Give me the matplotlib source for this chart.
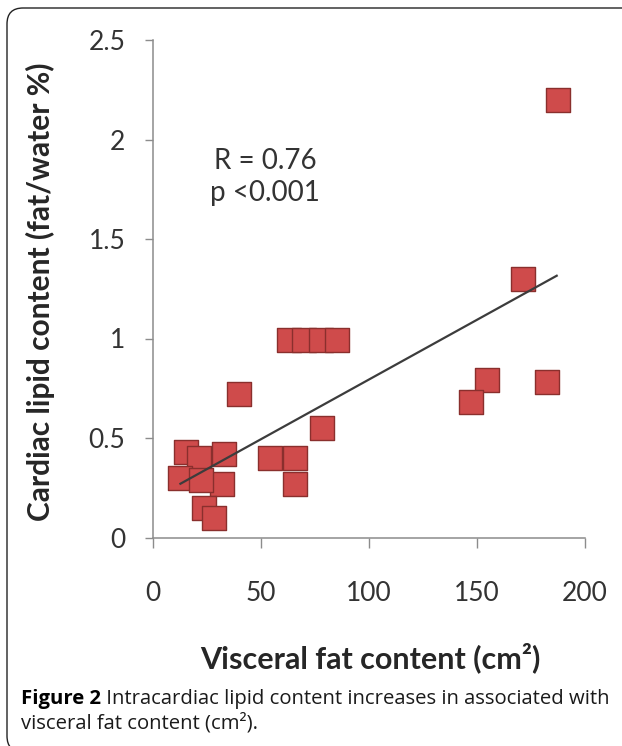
import matplotlib
matplotlib.use('Agg')
import matplotlib.pyplot as plt
from matplotlib.patches import FancyBboxPatch
import numpy as np

# values
visceral_fat = [187.6, 171.4, 154.8, 147.1, 182.3,
                63, 70, 78, 85, 39.8, 78.1,
                54.3, 65.6, 65.7,
                15.3, 21.3, 32.9, 12.7, 31.9, 23.6, 28.2, 22.2]
cardiac_lipid = [2.20, 1.30, 0.79, 0.68, 0.78,
                 0.99, 0.99, 0.99, 0.99, 0.72, 0.55,
                 0.40, 0.40, 0.27,
                 0.43, 0.40, 0.42, 0.30, 0.27, 0.15, 0.10, 0.29]
trend_slope = 0.006
trend_intercept = 0.194
x_ticks = [0, 50, 100, 150, 200]
y_ticks = [0, 0.5, 1, 1.5, 2, 2.5]
y_tick_labels = ['0', '0.5', '1', '1.5', '2', '2.5']
stats_text = 'R = 0.76\np <0.001'
x_title = 'Visceral fat content (cm²)'
y_title = 'Cardiac lipid content (fat/water %)'
caption_bold = 'Figure 2'
caption_line1 = ' Intracardiac lipid content increases in associated with'
caption_line2 = 'visceral fat content (cm²).'

W, H = 622, 746
fig = plt.figure(figsize=(W / 100, H / 100), dpi=100)
fig.patch.set_facecolor('white')

ax = fig.add_axes([153 / W, 1 - 537.5 / H, 432 / W, 497.5 / H])
xs = np.array(visceral_fat)
ys = np.array(cardiac_lipid)
ax.scatter(xs, ys, marker='s', s=17 ** 2, facecolor='#cf4b4b',
           edgecolor='#8a2f2d', linewidths=1.0, zorder=2)

# trend line across data range
tx = np.array([xs.min(), xs.max() - 0.7])
ax.plot(tx, trend_intercept + trend_slope * tx, color='#3c3c3c', lw=1.6, zorder=3)

ax.set_xlim(0, 200)
ax.set_ylim(0, 2.5)
ax.set_xticks(x_ticks)
ax.set_yticks(y_ticks)
ax.set_yticklabels(y_tick_labels)
for s in ['top', 'right']:
    ax.spines[s].set_visible(False)
for s in ['left', 'bottom']:
    ax.spines[s].set_color('#8c8c8c')
    ax.spines[s].set_linewidth(1.1)
ax.tick_params(axis='x', direction='out', length=7, width=1, color='#8c8c8c',
               pad=24, labelsize=19, labelcolor='#333333')
ax.tick_params(axis='y', direction='out', length=6, width=1, color='#8c8c8c',
               pad=14, labelsize=19, labelcolor='#333333')
for lab in ax.get_xticklabels() + ax.get_yticklabels():
    lab.set_fontfamily('Lato')

ax.text(0.26, 0.725, stats_text, transform=ax.transAxes, ha='center', va='center',
        fontsize=20, family='Lato', color='#333333', linespacing=1.3)

fig.text(370 / W, 1 - 658 / H, x_title, ha='center', va='center',
         fontsize=22, fontweight='bold', family='Lato', color='#262626')
fig.text(40 / W, 1 - 292 / H, y_title, ha='center', va='center', rotation=90,
         fontsize=21.5, fontweight='bold', family='Lato', color='#262626')

cap = fig.text(21 / W, 1 - 709 / H, caption_bold, ha='left', va='bottom',
               fontsize=14.6, fontweight='bold', family='Open Sans', color='black')
ax.annotate(caption_line1, xy=(1, 0), xycoords=cap, ha='left', va='bottom',
            fontsize=14.6, family='Open Sans', color='#1a1a1a', annotation_clip=False)
fig.text(21 / W, 1 - 734 / H, caption_line2, ha='left', va='bottom',
         fontsize=14.6, family='Open Sans', color='#1a1a1a')

# rounded panel border
border = FancyBboxPatch((0.07, -0.06), 7.0, 7.46 - 0.08 + 0.06,
                        boxstyle='round,pad=0,rounding_size=0.16',
                        transform=fig.dpi_scale_trans, facecolor='none',
                        edgecolor='#222222', linewidth=1.0, zorder=10)
fig.patches.append(border)

fig.savefig('out.png', dpi=100)
plt.close(fig)
